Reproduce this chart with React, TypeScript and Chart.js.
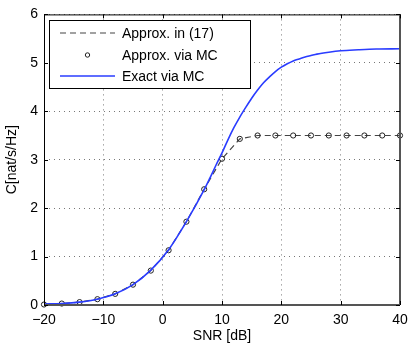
import React, { useEffect, useRef } from "react";
import { Chart, registerables } from "chart.js";

Chart.register(...registerables);

// SNR [dB] sample points for the approximation / Monte-Carlo markers
const snrMarkers = [-20, -17, -14, -11, -8, -5, -2, 1, 4, 7, 10, 13, 16, 19, 22, 25, 28, 31, 34, 37, 40];
// Approx. in (17)
const approxValues = [0.01, 0.03, 0.06, 0.12, 0.23, 0.42, 0.71, 1.13, 1.72, 2.39, 3.02, 3.43, 3.5, 3.5, 3.5, 3.5, 3.5, 3.5, 3.5, 3.5, 3.5];
// Approx. via MC
const mcValues = [0.01, 0.03, 0.06, 0.12, 0.23, 0.42, 0.71, 1.13, 1.72, 2.39, 3.02, 3.43, 3.5, 3.5, 3.5, 3.5, 3.5, 3.5, 3.5, 3.5, 3.5];
// Exact via MC
const snrExact = [-20, -17, -14, -11, -8, -5, -2, 1, 4, 7, 8, 9, 10, 11, 12, 13, 14, 15, 16, 17, 18, 19, 20, 21, 22, 23, 24, 25, 26, 28, 30, 33, 36, 40];
const exactValues = [0.02, 0.03, 0.06, 0.12, 0.23, 0.42, 0.72, 1.14, 1.72, 2.38, 2.63, 2.89, 3.14, 3.41, 3.66, 3.88, 4.08, 4.27, 4.44, 4.59, 4.71, 4.82, 4.91, 4.98, 5.04, 5.08, 5.12, 5.15, 5.18, 5.22, 5.25, 5.27, 5.285, 5.29];

const legendLabels = ["Approx. in (17)", "Approx. via MC", "Exact via MC"];
const xTitle = "SNR [dB]";
const yTitle = "C[nat/s/Hz]";

const FONT = "'Liberation Sans', Arial, Helvetica, sans-serif";
const BLUE = "#2a3cff";

const toPts = (xs: number[], ys: number[]) => xs.map((x, i) => ({ x, y: ys[i] }));

const framePlugin = {
  id: "matlabFrame",
  afterDraw(chart: any) {
    const { ctx, chartArea } = chart;
    const { left, right, top, bottom } = chartArea;
    const xs = chart.scales.x;
    const ys = chart.scales.y;
    ctx.save();
    // frame
    ctx.strokeStyle = "#000";
    ctx.lineWidth = 1;
    ctx.strokeRect(left + 0.5, top + 0.5, right - left - 1, bottom - top);
    ctx.strokeStyle = "#555";
    ctx.lineWidth = 2;
    ctx.beginPath();
    ctx.moveTo(left, bottom);
    ctx.lineTo(right, bottom);
    ctx.moveTo(right, top);
    ctx.lineTo(right, bottom);
    ctx.stroke();
    // inward ticks
    ctx.strokeStyle = "#000";
    ctx.lineWidth = 1;
    ctx.beginPath();
    const tl = 4;
    xs.ticks.forEach((t: any) => {
      const px = Math.round(xs.getPixelForValue(t.value)) + 0.5;
      ctx.moveTo(px, bottom);
      ctx.lineTo(px, bottom - tl);
      ctx.moveTo(px, top);
      ctx.lineTo(px, top + tl);
    });
    ys.ticks.forEach((t: any) => {
      const py = Math.round(ys.getPixelForValue(t.value)) + 0.5;
      ctx.moveTo(left, py);
      ctx.lineTo(left + tl, py);
      ctx.moveTo(right, py);
      ctx.lineTo(right - tl, py);
    });
    ctx.stroke();

    // legend
    const bx = 49.5, by = 20.5, bw = 201, bh = 68;
    ctx.fillStyle = "#fff";
    ctx.fillRect(bx, by, bw, bh);
    ctx.strokeStyle = "#000";
    ctx.lineWidth = 1;
    ctx.strokeRect(bx, by, bw, bh);
    const rows = [33, 55, 76];
    const lx1 = 60, lx2 = 115;
    ctx.strokeStyle = "#444";
    ctx.lineWidth = 1.2;
    ctx.setLineDash([6, 4]);
    ctx.beginPath();
    ctx.moveTo(lx1, rows[0]);
    ctx.lineTo(lx2, rows[0]);
    ctx.stroke();
    ctx.setLineDash([]);
    ctx.strokeStyle = "#222";
    ctx.lineWidth = 1;
    ctx.beginPath();
    ctx.arc((lx1 + lx2) / 2, rows[1], 2.2, 0, Math.PI * 2);
    ctx.stroke();
    ctx.strokeStyle = BLUE;
    ctx.lineWidth = 1.6;
    ctx.beginPath();
    ctx.moveTo(lx1, rows[2]);
    ctx.lineTo(lx2, rows[2]);
    ctx.stroke();
    ctx.fillStyle = "#000";
    ctx.font = `14px ${FONT}`;
    ctx.textBaseline = "middle";
    ctx.textAlign = "left";
    legendLabels.forEach((l, i) => ctx.fillText(l, 122, rows[i] + 1));
    ctx.restore();
  },
};

export default function App() {
  const ref = useRef<HTMLCanvasElement | null>(null);
  useEffect(() => {
    if (!ref.current) return;
    const fmt = (v: number) => (v < 0 ? "\u2212" + Math.abs(v) : String(v));
    const chart = new Chart(ref.current, {
      type: "line",
      data: {
        datasets: [
          {
            label: legendLabels[0],
            data: toPts(snrMarkers, approxValues),
            borderColor: "#444",
            borderWidth: 1.2,
            borderDash: [6, 4],
            pointRadius: 0,
            tension: 0,
            fill: false,
            order: 3,
          },
          {
            label: legendLabels[1],
            data: toPts(snrMarkers, mcValues),
            showLine: false,
            pointRadius: 2.6,
            pointBorderWidth: 1,
            pointBorderColor: "#222",
            pointBackgroundColor: "rgba(255,255,255,0)",
            clip: false as any,
            order: 2,
          },
          {
            label: legendLabels[2],
            data: toPts(snrExact, exactValues),
            borderColor: BLUE,
            borderWidth: 1.6,
            pointRadius: 0,
            cubicInterpolationMode: "monotone",
            fill: false,
            order: 1,
          },
        ],
      },
      options: {
        animation: false,
        responsive: false,
        devicePixelRatio: 1,
        layout: { padding: { top: 14, right: 15, left: 0, bottom: 0 } },
        plugins: { legend: { display: false }, tooltip: { enabled: false } },
        scales: {
          x: {
            type: "linear",
            min: -20,
            max: 40,
            ticks: { stepSize: 10, color: "#000", padding: 7, font: { family: FONT, size: 14 }, callback: (v: any) => fmt(Number(v)), maxRotation: 0 },
            grid: { color: "#777", lineWidth: 1, drawTicks: false } as any,
            border: { display: false, dash: [1, 4] },
            title: { display: true, text: xTitle, color: "#000", font: { family: FONT, size: 14 }, padding: { top: 0, bottom: 9 } },
            afterFit: (s: any) => { s.height = 49; },
          },
          y: {
            type: "linear",
            min: 0,
            max: 6,
            ticks: { stepSize: 1, color: "#000", padding: 6, font: { family: FONT, size: 14 }, callback: (v: any) => fmt(Number(v)) },
            grid: { color: "#777", lineWidth: 1, drawTicks: false } as any,
            border: { display: false, dash: [1, 4] },
            title: { display: true, text: yTitle, color: "#000", font: { family: FONT, size: 14 }, padding: { top: 4, bottom: 0 } },
            afterFit: (s: any) => { s.width = 44; },
          },
        },
      },
      plugins: [framePlugin],
    } as any);
    return () => chart.destroy();
  }, []);
  return (
    <div style={{ position: "absolute", left: 0, top: 0, width: 415, height: 354, background: "#fff" }}>
      <canvas ref={ref} width={415} height={354} />
    </div>
  );
}
